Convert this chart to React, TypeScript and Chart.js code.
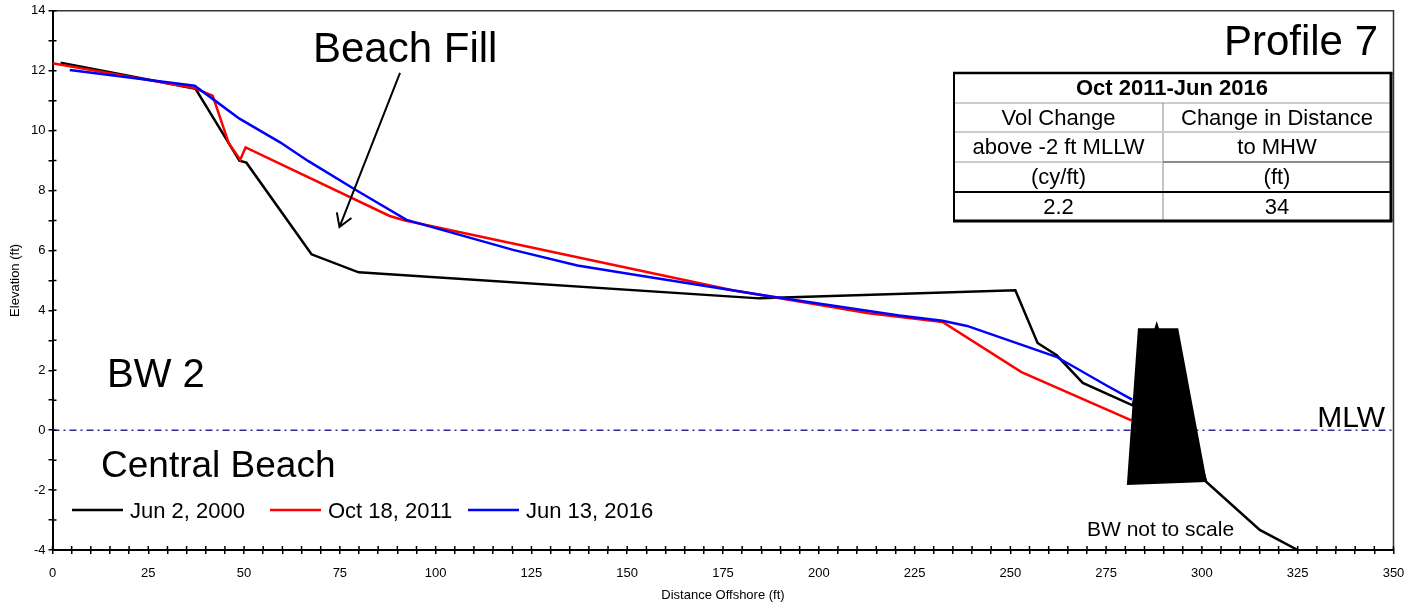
import { useEffect, useRef } from 'react';
import { Chart, registerables } from 'chart.js';

Chart.register(...registerables);

const FONT = '"Liberation Sans", Arial, Helvetica, sans-serif';

// survey profiles (distance offshore ft, elevation ft)
const seriesLabels = ['Jun 2, 2000', 'Oct 18, 2011', 'Jun 13, 2016'];
const seriesColors = ['#000000', '#ff0000', '#0000ff'];

const jun2000X = [2.1, 37.3, 48.8, 50.6, 67.6, 79.9, 184.5, 251.3, 257.1, 262.1, 268.9, 281.9, 288.2, 301.1, 315.1, 325];
const jun2000Y = [12.27, 11.4, 9.0, 8.93, 5.87, 5.27, 4.4, 4.67, 2.91, 2.5, 1.58, 0.83, 3.5, -1.72, -3.33, -4.0];

const oct2011X = [0, 37, 41.8, 46, 49, 50.4, 88, 92, 136.7, 177.5, 213, 232.3, 252.9, 281.6];
const oct2011Y = [12.25, 11.42, 11.17, 9.58, 9.03, 9.44, 7.15, 7.0, 5.78, 4.67, 3.9, 3.61, 1.94, 0.33];

const jun2016X = [4.5, 37.1, 41.8, 48.8, 59.4, 66.8, 79.4, 92.4, 120.2, 137, 151.5, 188.9, 221, 232.3, 238.7, 262, 275, 281.8];
const jun2016Y = [12.02, 11.5, 11.06, 10.4, 9.61, 8.98, 8.0, 7.02, 6.02, 5.5, 5.2, 4.44, 3.83, 3.65, 3.48, 2.45, 1.5, 1.02];

const mlwX = [0, 350];
const mlwY = [0, 0];

// breakwater outline (drawn filled, not to scale)
const breakwaterX = [283.3, 293.8, 301.3, 280.4];
const breakwaterY = [3.4, 3.4, -1.73, -1.83];

const xTickLabels = [0, 25, 50, 75, 100, 125, 150, 175, 200, 225, 250, 275, 300, 325, 350];
const yTickLabels = [-4, -2, 0, 2, 4, 6, 8, 10, 12, 14];

const tableTitle = 'Oct 2011-Jun 2016';
const volChangeCol = ['Vol Change', 'above -2 ft MLLW', '(cy/ft)', '2.2'];
const distChangeCol = ['Change in Distance', 'to MHW', '(ft)', '34'];

// arrow for "Beach Fill", in data units
const arrowFrom = { x: 90.7, y: 11.93 };
const arrowTo = { x: 74.9, y: 6.78 };

const toPoints = (xs: number[], ys: number[]) => xs.map((x, i) => ({ x, y: ys[i] }));

const overlayPlugin = {
  id: 'profileOverlay',
  afterDatasetsDraw(chart: any) {
    const { ctx, scales } = chart;
    const xs = scales.x;
    const ys = scales.y;
    ctx.save();
    ctx.beginPath();
    breakwaterX.forEach((v, i) => {
      const px = xs.getPixelForValue(v);
      const py = ys.getPixelForValue(breakwaterY[i]);
      if (i === 0) ctx.moveTo(px, py);
      else ctx.lineTo(px, py);
    });
    ctx.closePath();
    ctx.fillStyle = '#000';
    ctx.fill();
    ctx.restore();
  },
  afterDraw(chart: any) {
    const { ctx, chartArea, scales } = chart;
    const xs = scales.x;
    const ys = scales.y;
    const { left, right, top, bottom } = chartArea;
    ctx.save();

    // top / right frame
    ctx.strokeStyle = '#333';
    ctx.lineWidth = 1.5;
    ctx.beginPath();
    ctx.moveTo(left, top);
    ctx.lineTo(right, top);
    ctx.lineTo(right, bottom);
    ctx.stroke();

    // inner half of the tick marks
    ctx.strokeStyle = '#000';
    ctx.lineWidth = 1.5;
    ctx.beginPath();
    xs.ticks.forEach((t: any) => {
      const px = xs.getPixelForValue(t.value);
      ctx.moveTo(px, bottom);
      ctx.lineTo(px, bottom - 4);
    });
    ys.ticks.forEach((t: any) => {
      const py = ys.getPixelForValue(t.value);
      ctx.moveTo(left, py);
      ctx.lineTo(left + 4, py);
    });
    ctx.stroke();

    // labels
    ctx.fillStyle = '#000';
    ctx.textBaseline = 'alphabetic';
    ctx.textAlign = 'left';
    ctx.font = `42px ${FONT}`;
    ctx.fillText('Beach Fill', 313, 61.5);
    ctx.textAlign = 'right';
    ctx.fillText('Profile 7', 1378, 55);
    ctx.textAlign = 'left';
    ctx.font = `40px ${FONT}`;
    ctx.fillText('BW 2', 107, 387);
    ctx.font = `37px ${FONT}`;
    ctx.fillText('Central Beach', 101, 477);
    ctx.font = `30px ${FONT}`;
    ctx.textAlign = 'right';
    ctx.fillText('MLW', 1385, 427);
    ctx.textAlign = 'left';
    ctx.font = `21px ${FONT}`;
    ctx.fillText('BW not to scale', 1087, 536);

    // arrow
    const ax0 = xs.getPixelForValue(arrowFrom.x);
    const ay0 = ys.getPixelForValue(arrowFrom.y);
    const ax1 = xs.getPixelForValue(arrowTo.x);
    const ay1 = ys.getPixelForValue(arrowTo.y);
    const ang = Math.atan2(ay0 - ay1, ax0 - ax1);
    const head = 15;
    const spread = 0.55;
    ctx.strokeStyle = '#000';
    ctx.lineWidth = 2;
    ctx.beginPath();
    ctx.moveTo(ax0, ay0);
    ctx.lineTo(ax1, ay1);
    ctx.moveTo(ax1 + head * Math.cos(ang - spread), ay1 + head * Math.sin(ang - spread));
    ctx.lineTo(ax1, ay1);
    ctx.lineTo(ax1 + head * Math.cos(ang + spread), ay1 + head * Math.sin(ang + spread));
    ctx.stroke();

    // legend
    const legendX = [72, 270, 468];
    ctx.font = `22px ${FONT}`;
    ctx.textAlign = 'left';
    seriesLabels.forEach((lab, i) => {
      ctx.strokeStyle = seriesColors[i];
      ctx.lineWidth = 2.5;
      ctx.beginPath();
      ctx.moveTo(legendX[i], 510);
      ctx.lineTo(legendX[i] + 51, 510);
      ctx.stroke();
      ctx.fillStyle = '#000';
      ctx.fillText(lab, legendX[i] + 58, 517.5);
    });

    // summary table
    const tL = 954, tR = 1391, tT = 73, tB = 221, colX = 1163;
    const rowY = [73, 103, 132, 162, 192, 221];
    ctx.fillStyle = '#fff';
    ctx.fillRect(tL, tT, tR - tL, tB - tT);
    const seg = (x0: number, y0: number, x1: number, y1: number, color: string, w: number) => {
      ctx.strokeStyle = color;
      ctx.lineWidth = w;
      ctx.beginPath();
      ctx.moveTo(x0, y0);
      ctx.lineTo(x1, y1);
      ctx.stroke();
    };
    seg(tL, rowY[1], tR, rowY[1], '#999', 1);
    seg(colX, rowY[1], colX, tB, '#888', 1);
    seg(tL, rowY[2], tR, rowY[2], '#ccc', 2);
    seg(tL, rowY[3], colX, rowY[3], '#ccc', 2);
    seg(colX, rowY[3], tR, rowY[3], '#666', 1.5);
    seg(tL, rowY[4], tR, rowY[4], '#000', 2);
    seg(tL - 1, tT, tR + 1.5, tT, '#000', 2.5);
    seg(tL, tT, tL, tB, '#000', 2);
    seg(tR, tT, tR, tB, '#000', 3);
    seg(tL - 1, tB, tR + 1.5, tB, '#000', 3);

    ctx.fillStyle = '#000';
    ctx.textAlign = 'center';
    ctx.textBaseline = 'middle';
    ctx.font = `bold 22px ${FONT}`;
    ctx.fillText(tableTitle, 1172, 89);
    ctx.font = `22px ${FONT}`;
    volChangeCol.forEach((txt, i) => {
      ctx.fillText(txt, (tL + colX) / 2, (rowY[i + 1] + rowY[i + 2]) / 2 + 1);
    });
    distChangeCol.forEach((txt, i) => {
      ctx.fillText(txt, (colX + tR) / 2, (rowY[i + 1] + rowY[i + 2]) / 2 + 1);
    });

    ctx.restore();
  },
};

export default function App() {
  const canvasRef = useRef<HTMLCanvasElement>(null);
  const chartRef = useRef<Chart | null>(null);

  useEffect(() => {
    if (!canvasRef.current) return;
    const ctx = canvasRef.current.getContext('2d');
    if (!ctx) return;

    if (chartRef.current) {
      chartRef.current.destroy();
    }

    const lineSet = (label: string, pts: { x: number; y: number }[], color: string, order: number) => ({
      label,
      data: pts,
      borderColor: color,
      backgroundColor: color,
      borderWidth: 2.5,
      pointRadius: 0,
      fill: false,
      tension: 0,
      order,
    });

    chartRef.current = new Chart(ctx, {
      type: 'line',
      data: {
        datasets: [
          {
            label: 'MLW',
            data: toPoints(mlwX, mlwY),
            borderColor: '#2b2b9c',
            borderWidth: 1.5,
            borderDash: [7, 4, 2, 4],
            pointRadius: 0,
            fill: false,
            order: 4,
          },
          lineSet(seriesLabels[0], toPoints(jun2000X, jun2000Y), seriesColors[0], 3),
          lineSet(seriesLabels[1], toPoints(oct2011X, oct2011Y), seriesColors[1], 2),
          lineSet(seriesLabels[2], toPoints(jun2016X, jun2016Y), seriesColors[2], 1),
        ],
      },
      options: {
        animation: false,
        responsive: true,
        maintainAspectRatio: false,
        parsing: false,
        layout: { padding: { left: 0, right: 30.5, top: 10, bottom: 0 } },
        plugins: {
          legend: { display: false },
          tooltip: { enabled: false },
        },
        scales: {
          x: {
            type: 'linear',
            min: 0,
            max: 350,
            afterFit: (s: any) => {
              s.height = 56;
            },
            border: { display: true, color: '#000', width: 2 },
            grid: { drawOnChartArea: false, drawTicks: true, tickLength: 4, color: '#000', lineWidth: 1.5 },
            ticks: {
              stepSize: 5,
              autoSkip: false,
              maxRotation: 0,
              padding: 12,
              color: '#000',
              font: { family: FONT, size: 13 },
              callback: (v: any) => (xTickLabels.includes(Number(v)) ? String(v) : ''),
            },
            title: {
              display: true,
              text: 'Distance Offshore (ft)',
              color: '#000',
              font: { family: FONT, size: 13 },
              padding: { top: 0, bottom: 3 },
            },
          },
          y: {
            type: 'linear',
            min: -4,
            max: 14,
            afterFit: (s: any) => {
              s.width = 52.5;
            },
            border: { display: true, color: '#000', width: 2 },
            grid: { drawOnChartArea: false, drawTicks: true, tickLength: 4, color: '#000', lineWidth: 1.5 },
            ticks: {
              stepSize: 1,
              autoSkip: false,
              padding: 3,
              color: '#000',
              font: { family: FONT, size: 13 },
              callback: (v: any) => (yTickLabels.includes(Number(v)) ? String(v) : ''),
            },
            title: {
              display: true,
              text: 'Elevation (ft)',
              color: '#000',
              font: { family: FONT, size: 13 },
              padding: { top: 8, bottom: 0 },
            },
          },
        },
      },
      plugins: [overlayPlugin],
    });

    return () => {
      if (chartRef.current) {
        chartRef.current.destroy();
        chartRef.current = null;
      }
    };
  }, []);

  return (
    <div style={{ position: 'fixed', left: 0, top: 0, width: 1424, height: 606, background: '#fff' }}>
      <canvas ref={canvasRef}></canvas>
    </div>
  );
}
